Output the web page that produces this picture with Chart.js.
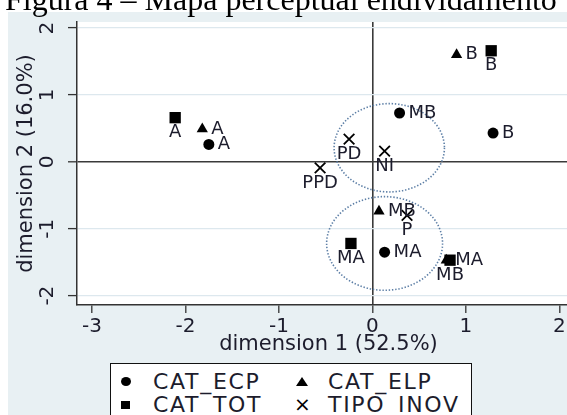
<!DOCTYPE html>
<html>
<head>
<meta charset="utf-8">
<script src="https://cdn.jsdelivr.net/npm/chart.js@4.4.1/dist/chart.umd.min.js"></script>
<style>
  html, body { margin: 0; padding: 0; background: #fff; overflow: hidden; }
  #wrap { position: relative; width: 567px; height: 415px; overflow: hidden; }
  #chart { position: absolute; left: 0; top: 0; }
  #title { position: absolute; left: 5px; top: -17px; font: 32px/32px "Liberation Serif", serif; color: #000; white-space: nowrap; z-index: 2; }
  #legend { position: absolute; left: 110px; top: 363px; width: 360px; height: 70px; background: #fff; border: 1.5px solid #111; font-family: "DejaVu Sans", sans-serif; color: #1c1c2c; }
  #legend .mark { position: absolute; background: #000; }
  #legend .mark.circle { width: 10px; height: 9px; border-radius: 50%; }
  #legend .mark.rect { width: 9px; height: 8px; }
  #legend .mark.triangle { width: 0; height: 0; background: none; border-left: 6px solid transparent; border-right: 6px solid transparent; border-bottom: 9px solid #000; }
  #legend .mark.cross { background: none; font-size: 20px; line-height: 20px; width: 14px; text-align: center; color: #000; }
  #legend .name { position: absolute; font-size: 22px; line-height: 24px; letter-spacing: 1.7px; white-space: nowrap; }
</style>
</head>
<body>
<div id="wrap">
  <div id="title">Figura 4 – Mapa perceptual endividamento</div>
  <canvas id="chart" width="600" height="415"></canvas>
  <div id="legend"></div>
</div>
<script>
// valores
const seriesNames = ['CAT_ECP', 'CAT_ELP', 'CAT_TOT', 'TIPO_INOV'];

const ecpLabels = ['A', 'MB', 'B', 'MA'];
const ecpX = [-1.75, 0.29, 1.29, 0.13];
const ecpY = [0.26, 0.73, 0.43, -1.35];

const elpLabels = ['A', 'B', 'MB', 'MA'];
const elpX = [-1.82, 0.90, 0.07, 0.79];
const elpY = [0.49, 1.60, -0.74, -1.47];

const totLabels = ['A', 'B', 'MA', 'MB'];
const totX = [-2.11, 1.27, -0.23, 0.83];
const totY = [0.66, 1.66, -1.22, -1.47];

const inovLabels = ['PD', 'NI', 'PPD', 'P'];
const inovX = [-0.25, 0.13, -0.56, 0.37];
const inovY = [0.34, 0.16, -0.09, -0.80];

// elipses pontilhadas (centro e raios em unidades dos eixos)
const ellipseX = [0.18, 0.13];
const ellipseY = [0.21, -1.22];
const ellipseRX = [0.59, 0.62];
const ellipseRY = [0.66, 0.70];

const xTicks = [-3, -2, -1, 0, 1, 2];
const yTicks = [-2, -1, 0, 1, 2];

const pointLabels = [ecpLabels, elpLabels, totLabels, inovLabels];
const labelSide = ['right', 'right', 'below', 'below'];

const textColor = '#1c1c2c';
const font = 'DejaVu Sans';

function points(xs, ys) {
  return xs.map((x, i) => ({ x, y: ys[i] }));
}

// fundo cinza-azulado e área do gráfico branca
const backdrop = {
  id: 'backdrop',
  beforeDraw(chart) {
    const { ctx, chartArea: a } = chart;
    ctx.save();
    ctx.fillStyle = '#e8f0f3';
    ctx.fillRect(8, 12, chart.width - 8, chart.height - 12);
    ctx.fillStyle = '#fff';
    ctx.fillRect(a.left, a.top, a.right - a.left, a.bottom - a.top);
    ctx.restore();
  }
};

// elipses
const ellipses = {
  id: 'ellipses',
  beforeDatasetsDraw(chart) {
    const { ctx, scales: { x, y } } = chart;
    ctx.save();
    ctx.strokeStyle = '#5d7fa6';
    ctx.lineWidth = 1.6;
    ctx.setLineDash([1.4, 1.8]);
    ellipseX.forEach((cx, i) => {
      const px = x.getPixelForValue(cx);
      const py = y.getPixelForValue(ellipseY[i]);
      const rx = Math.abs(x.getPixelForValue(cx + ellipseRX[i]) - px);
      const ry = Math.abs(y.getPixelForValue(ellipseY[i] + ellipseRY[i]) - py);
      ctx.beginPath();
      ctx.ellipse(px, py, rx, ry, 0, 0, Math.PI * 2);
      ctx.stroke();
    });
    ctx.restore();
  }
};

// rótulos dos pontos
const markerLabels = {
  id: 'markerLabels',
  afterDatasetsDraw(chart) {
    const ctx = chart.ctx;
    ctx.save();
    ctx.font = `18px "${font}"`;
    ctx.fillStyle = textColor;
    ctx.textBaseline = 'middle';
    chart.data.datasets.forEach((ds, i) => {
      chart.getDatasetMeta(i).data.forEach((pt, j) => {
        const text = pointLabels[i][j];
        if (labelSide[i] === 'right') {
          ctx.textAlign = 'left';
          ctx.fillText(text, pt.x + 9, pt.y);
        } else {
          ctx.textAlign = 'center';
          ctx.fillText(text, pt.x, pt.y + 15);
        }
      });
    });
    ctx.restore();
  }
};

const ctx = document.getElementById('chart').getContext('2d');
const chart = new Chart(ctx, {
  type: 'scatter',
  data: {
    datasets: [
      { label: seriesNames[0], data: points(ecpX, ecpY), pointStyle: 'circle', pointRadius: 5.5, backgroundColor: '#000', borderColor: '#000', borderWidth: 0 },
      { label: seriesNames[1], data: points(elpX, elpY), pointStyle: 'triangle', pointRadius: 6.5, backgroundColor: '#000', borderColor: '#000', borderWidth: 0 },
      { label: seriesNames[2], data: points(totX, totY), pointStyle: 'rect', pointRadius: 8, backgroundColor: '#000', borderColor: '#000', borderWidth: 0 },
      { label: seriesNames[3], data: points(inovX, inovY), pointStyle: 'crossRot', pointRadius: 7.5, backgroundColor: '#000', borderColor: '#000', borderWidth: 1.8 }
    ]
  },
  options: {
    responsive: false,
    animation: false,
    layout: { padding: { top: 12, right: 20, bottom: 54, left: 0 } },
    plugins: {
      legend: { display: false },
      tooltip: { enabled: false }
    },
    scales: {
      x: {
        type: 'linear',
        min: -3.16,
        max: 2.22,
        afterBuildTicks: s => { s.ticks = xTicks.map(v => ({ value: v })); },
        afterFit: s => { s.height = 56; },
        grid: {
          color: c => (c.tick && c.tick.value === 0 ? '#3a3a3a' : 'rgba(0,0,0,0)'),
          lineWidth: 1.6,
          tickColor: '#333',
          tickWidth: 1.3,
          tickLength: 8
        },
        border: { color: '#333', width: 1.5 },
        ticks: { font: { family: font, size: 20 }, color: textColor, padding: 2 },
        title: { display: true, text: 'dimension 1 (52.5%)', font: { family: font, size: 21 }, color: textColor, padding: { top: 0, bottom: 4 } }
      },
      y: {
        type: 'linear',
        min: -2.14,
        max: 2.09,
        afterBuildTicks: s => { s.ticks = yTicks.map(v => ({ value: v })); },
        afterFit: s => { s.width = 77; },
        grid: {
          color: c => (c.tick && c.tick.value === 0 ? '#3a3a3a' : '#dde8ee'),
          lineWidth: c => (c.tick && c.tick.value === 0 ? 1.6 : 1.2),
          tickColor: '#333',
          tickWidth: 1.3,
          tickLength: 9
        },
        border: { color: '#333', width: 1.5 },
        ticks: { font: { family: font, size: 20 }, color: textColor, padding: 10, minRotation: 90, maxRotation: 90, crossAlign: 'center' },
        title: { display: true, text: 'dimension 2 (16.0%)', font: { family: font, size: 21 }, color: textColor, padding: { top: 14, bottom: 0 } }
      }
    }
  },
  plugins: [backdrop, ellipses, markerLabels]
});

// legenda em caixa 2x2
const legendMarks = ['circle', 'triangle', 'rect', 'cross'];
const legend = document.getElementById('legend');
seriesNames.forEach((name, i) => {
  const col = i % 2;
  const row = Math.floor(i / 2);
  const cy = row === 0 ? 17.5 : 41;
  const cx = col === 0 ? 15 : 190;
  const mark = document.createElement('span');
  mark.className = 'mark ' + legendMarks[i];
  if (legendMarks[i] === 'cross') {
    mark.textContent = '×';
    mark.style.left = (cx - 7) + 'px';
    mark.style.top = (cy - 11) + 'px';
  } else {
    mark.style.left = (cx - 5) + 'px';
    mark.style.top = (cy - 4.5) + 'px';
  }
  const label = document.createElement('span');
  label.className = 'name';
  label.textContent = name;
  label.style.left = (col === 0 ? 42 : 217) + 'px';
  label.style.top = (cy - 12) + 'px';
  legend.appendChild(mark);
  legend.appendChild(label);
});
</script>
</body>
</html>
